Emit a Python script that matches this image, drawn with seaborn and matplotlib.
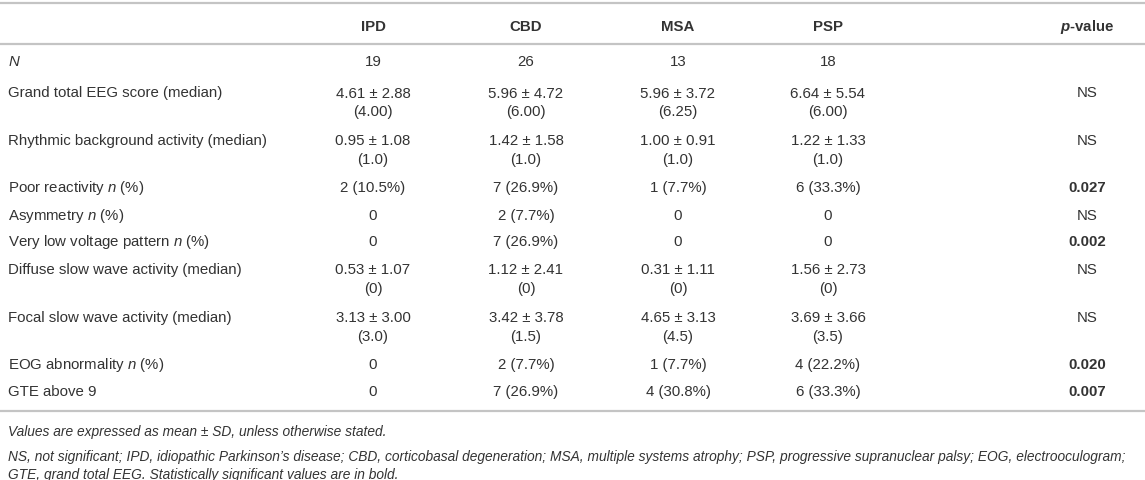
import matplotlib
matplotlib.use("Agg")
import matplotlib.pyplot as plt
import seaborn as sns

# datos de la tabla
columnas = ["IPD", "CBD", "MSA", "PSP"]
etiquetas = ["$\\mathit{N}$",
             "Grand total EEG score (median)",
             "Rhythmic background activity (median)",
             "Poor reactivity $\\mathit{n}$ (%)",
             "Asymmetry $\\mathit{n}$ (%)",
             "Very low voltage pattern $\\mathit{n}$ (%)",
             "Diffuse slow wave activity (median)",
             "Focal slow wave activity (median)",
             "EOG abnormality $\\mathit{n}$ (%)",
             "GTE above 9"]
ipd = ["19", "4.61 ± 2.88\n(4.00)", "0.95 ± 1.08\n(1.0)", "2 (10.5%)", "0", "0",
       "0.53 ± 1.07\n(0)", "3.13 ± 3.00\n(3.0)", "0", "0"]
cbd = ["26", "5.96 ± 4.72\n(6.00)", "1.42 ± 1.58\n(1.0)", "7 (26.9%)", "2 (7.7%)", "7 (26.9%)",
       "1.12 ± 2.41\n(0)", "3.42 ± 3.78\n(1.5)", "2 (7.7%)", "7 (26.9%)"]
msa = ["13", "5.96 ± 3.72\n(6.25)", "1.00 ± 0.91\n(1.0)", "1 (7.7%)", "0", "0",
       "0.31 ± 1.11\n(0)", "4.65 ± 3.13\n(4.5)", "1 (7.7%)", "4 (30.8%)"]
psp = ["18", "6.64 ± 5.54\n(6.00)", "1.22 ± 1.33\n(1.0)", "6 (33.3%)", "0", "0",
       "1.56 ± 2.73\n(0)", "3.69 ± 3.66\n(3.5)", "4 (22.2%)", "6 (33.3%)"]
p_valor = ["", "NS", "NS", "0.027", "NS", "0.002", "NS", "NS", "0.020", "0.007"]
notas = ["Values are expressed as mean ± SD, unless otherwise stated.",
         "NS, not significant; IPD, idiopathic Parkinson’s disease; CBD, corticobasal degeneration; "
         "MSA, multiple systems atrophy; PSP, progressive supranuclear palsy; EOG, electrooculogram;",
         "GTE, grand total EEG. Statistically significant values are in bold."]

sns.set_theme(style="white")
plt.rcParams['font.family'] = ['Liberation Sans', 'DejaVu Sans']
plt.rcParams['mathtext.fontset'] = 'custom'
plt.rcParams['mathtext.rm'] = 'Liberation Sans'
plt.rcParams['mathtext.it'] = 'Liberation Sans:italic'
plt.rcParams['mathtext.bf'] = 'Liberation Sans:bold'
plt.rcParams['mathtext.bfit'] = 'Liberation Sans:italic:bold'

fig = plt.figure(figsize=(11.45, 4.81), dpi=100)
ax = fig.add_axes([0, 0, 1, 1])
ax.set_xlim(0, 1145)
ax.set_ylim(481, 0)
ax.axis("off")

color = "#333333"
fs = 10.8
linea = "#c4c4c4"

# lineas horizontales
for y in [4, 45, 412]:
    ax.plot([0, 1145], [y, y], color=linea, lw=1.6, solid_capstyle="butt")

# encabezado
xs = [373, 526, 678, 828]
for x, c in zip(xs, columnas):
    ax.text(x, 27, c, ha="center", va="center", fontsize=fs, fontweight="bold", color=color)
ax.text(1087, 27, "$\\mathbfit{p}$-value", ha="center", va="center", fontsize=fs,
        fontweight="bold", color=color)

# filas
ys = [62, 93, 141, 188, 216, 242, 270, 318, 365, 392]
for i, y in enumerate(ys):
    ax.text(8, y, etiquetas[i], ha="left", va="center", fontsize=fs, color=color)
    for x, col in zip(xs, [ipd, cbd, msa, psp]):
        ax.text(x, y - 6.5, col[i], ha="center", va="top", fontsize=fs, color=color,
                linespacing=1.4)
    negrita = p_valor[i] not in ("", "NS")
    ax.text(1087, y, p_valor[i], ha="center", va="center", fontsize=fs, color=color,
            fontweight="bold" if negrita else "normal")

# notas al pie
for y, t in zip([432, 457, 475], notas):
    ax.text(8, y, t, ha="left", va="center", fontsize=9.95, style="italic", color=color)

plt.savefig("out.png", dpi=100)
